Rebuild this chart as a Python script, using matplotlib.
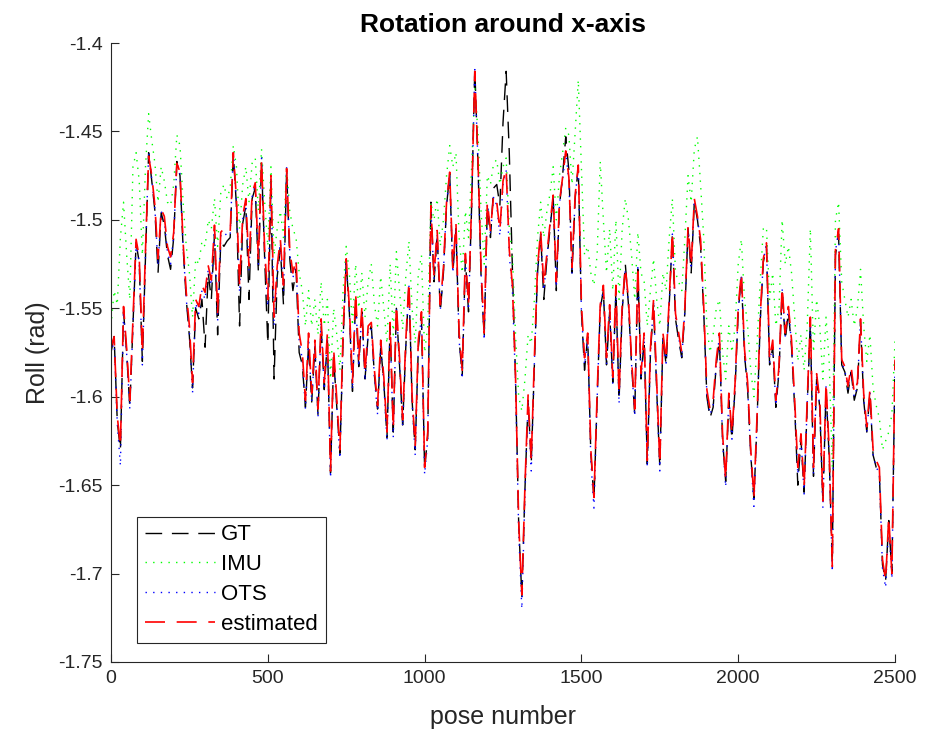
import numpy as np
import matplotlib
matplotlib.use("Agg")
import matplotlib.pyplot as plt

plt.rcParams['font.family'] = ['Liberation Sans', 'DejaVu Sans']

# roll angle (rad), sampled every 10 poses from 0 to 2500
gt = [
    -1.575, -1.566, -1.614, -1.630, -1.552, -1.575, -1.606, -1.560, -1.513, -1.524,
    -1.580, -1.520, -1.462, -1.478, -1.495, -1.530, -1.496, -1.503, -1.520, -1.528,
    -1.510, -1.467, -1.475, -1.516, -1.545, -1.566, -1.595, -1.550, -1.556, -1.545,
    -1.572, -1.530, -1.545, -1.508, -1.565, -1.512, -1.515, -1.512, -1.510, -1.463,
    -1.492, -1.560, -1.502, -1.492, -1.545, -1.488, -1.482, -1.530, -1.467, -1.522,
    -1.570, -1.478, -1.590, -1.532, -1.516, -1.548, -1.472, -1.522, -1.540, -1.528,
    -1.575, -1.582, -1.606, -1.570, -1.603, -1.572, -1.610, -1.560, -1.596, -1.568,
    -1.643, -1.578, -1.606, -1.632, -1.568, -1.524, -1.552, -1.597, -1.545, -1.583,
    -1.552, -1.590, -1.565, -1.560, -1.588, -1.607, -1.572, -1.592, -1.623, -1.560,
    -1.620, -1.550, -1.582, -1.616, -1.572, -1.536, -1.602, -1.630, -1.572, -1.555,
    -1.641, -1.622, -1.490, -1.535, -1.508, -1.552, -1.530, -1.492, -1.474, -1.530,
    -1.505, -1.568, -1.588, -1.522, -1.552, -1.492, -1.414, -1.468, -1.532, -1.566,
    -1.492, -1.510, -1.482, -1.480, -1.492, -1.445, -1.416, -1.462, -1.528, -1.590,
    -1.672, -1.713, -1.652, -1.602, -1.638, -1.582, -1.530, -1.508, -1.545, -1.522,
    -1.505, -1.487, -1.540, -1.492, -1.475, -1.453, -1.472, -1.530, -1.488, -1.470,
    -1.552, -1.585, -1.566, -1.632, -1.658, -1.602, -1.550, -1.540, -1.582, -1.552,
    -1.592, -1.540, -1.602, -1.552, -1.525, -1.548, -1.582, -1.610, -1.528, -1.590,
    -1.568, -1.638, -1.576, -1.548, -1.596, -1.640, -1.566, -1.582, -1.548, -1.508,
    -1.556, -1.568, -1.578, -1.552, -1.505, -1.530, -1.490, -1.500, -1.515, -1.552,
    -1.600, -1.612, -1.606, -1.582, -1.568, -1.624, -1.648, -1.602, -1.624, -1.595,
    -1.552, -1.532, -1.576, -1.596, -1.633, -1.658, -1.614, -1.558, -1.524, -1.515,
    -1.582, -1.572, -1.606, -1.586, -1.540, -1.568, -1.552, -1.572, -1.606, -1.650,
    -1.624, -1.654, -1.605, -1.558, -1.645, -1.590, -1.606, -1.660, -1.596, -1.634,
    -1.694, -1.520, -1.508, -1.582, -1.586, -1.598, -1.586, -1.602, -1.595, -1.558,
    -1.602, -1.620, -1.598, -1.633, -1.640, -1.643, -1.695, -1.704, -1.670, -1.700,
    -1.580,
]

imu = [
    -1.560, -1.540, -1.548, -1.510, -1.490, -1.520, -1.545, -1.470, -1.462, -1.478,
    -1.520, -1.470, -1.440, -1.455, -1.468, -1.490, -1.470, -1.478, -1.490, -1.492,
    -1.480, -1.452, -1.458, -1.490, -1.515, -1.530, -1.555, -1.522, -1.525, -1.512,
    -1.515, -1.500, -1.505, -1.488, -1.515, -1.485, -1.480, -1.488, -1.482, -1.458,
    -1.470, -1.505, -1.480, -1.470, -1.490, -1.468, -1.465, -1.495, -1.460, -1.490,
    -1.515, -1.470, -1.520, -1.505, -1.495, -1.510, -1.470, -1.495, -1.505, -1.510,
    -1.530, -1.540, -1.560, -1.540, -1.560, -1.545, -1.565, -1.535, -1.560, -1.545,
    -1.590, -1.550, -1.565, -1.585, -1.540, -1.515, -1.530, -1.560, -1.525, -1.550,
    -1.530, -1.555, -1.535, -1.525, -1.548, -1.560, -1.532, -1.550, -1.570, -1.525,
    -1.565, -1.518, -1.540, -1.562, -1.532, -1.512, -1.550, -1.570, -1.530, -1.520,
    -1.575, -1.560, -1.490, -1.500, -1.488, -1.515, -1.500, -1.475, -1.458, -1.470,
    -1.462, -1.510, -1.530, -1.495, -1.510, -1.470, -1.425, -1.450, -1.495, -1.525,
    -1.475, -1.480, -1.468, -1.466, -1.480, -1.470, -1.465, -1.505, -1.520, -1.565,
    -1.600, -1.608, -1.590, -1.565, -1.570, -1.545, -1.510, -1.490, -1.510, -1.495,
    -1.485, -1.470, -1.500, -1.475, -1.462, -1.448, -1.452, -1.480, -1.450, -1.421,
    -1.470, -1.520, -1.515, -1.530, -1.537, -1.520, -1.467, -1.500, -1.530, -1.505,
    -1.540, -1.500, -1.545, -1.505, -1.488, -1.500, -1.520, -1.545, -1.507, -1.530,
    -1.535, -1.560, -1.540, -1.522, -1.545, -1.560, -1.530, -1.540, -1.510, -1.488,
    -1.530, -1.535, -1.540, -1.510, -1.475, -1.490, -1.460, -1.453, -1.480, -1.510,
    -1.560, -1.575, -1.565, -1.550, -1.545, -1.575, -1.590, -1.560, -1.575, -1.560,
    -1.525, -1.511, -1.545, -1.560, -1.585, -1.600, -1.570, -1.535, -1.505, -1.504,
    -1.545, -1.530, -1.560, -1.550, -1.500, -1.525, -1.515, -1.530, -1.555, -1.580,
    -1.565, -1.585, -1.560, -1.505, -1.575, -1.545, -1.560, -1.590, -1.555, -1.580,
    -1.640, -1.500, -1.490, -1.535, -1.545, -1.555, -1.545, -1.560, -1.550, -1.528,
    -1.560, -1.580, -1.565, -1.595, -1.605, -1.612, -1.630, -1.625, -1.620, -1.610,
    -1.568,
]

ots = [
    -1.576, -1.568, -1.615, -1.639, -1.552, -1.576, -1.607, -1.560, -1.513, -1.524,
    -1.582, -1.519, -1.462, -1.477, -1.494, -1.526, -1.495, -1.500, -1.518, -1.525,
    -1.509, -1.467, -1.474, -1.516, -1.545, -1.563, -1.598, -1.547, -1.553, -1.540,
    -1.545, -1.528, -1.537, -1.505, -1.557, -1.509, -1.507, -1.509, -1.509, -1.461,
    -1.490, -1.541, -1.500, -1.490, -1.529, -1.487, -1.480, -1.525, -1.465, -1.519,
    -1.549, -1.476, -1.560, -1.528, -1.513, -1.540, -1.470, -1.519, -1.533, -1.524,
    -1.568, -1.579, -1.607, -1.567, -1.603, -1.571, -1.612, -1.559, -1.596, -1.567,
    -1.646, -1.576, -1.606, -1.635, -1.567, -1.523, -1.552, -1.596, -1.544, -1.583,
    -1.552, -1.591, -1.563, -1.561, -1.589, -1.610, -1.571, -1.593, -1.625, -1.561,
    -1.623, -1.550, -1.581, -1.617, -1.571, -1.537, -1.603, -1.633, -1.571, -1.554,
    -1.644, -1.624, -1.493, -1.534, -1.508, -1.551, -1.529, -1.491, -1.474, -1.530,
    -1.504, -1.568, -1.590, -1.521, -1.551, -1.491, -1.415, -1.467, -1.530, -1.568,
    -1.491, -1.508, -1.487, -1.492, -1.509, -1.480, -1.472, -1.520, -1.540, -1.593,
    -1.676, -1.720, -1.655, -1.602, -1.642, -1.581, -1.529, -1.508, -1.540, -1.521,
    -1.503, -1.487, -1.538, -1.491, -1.477, -1.462, -1.478, -1.531, -1.487, -1.470,
    -1.552, -1.582, -1.567, -1.636, -1.663, -1.602, -1.550, -1.539, -1.582, -1.550,
    -1.593, -1.539, -1.604, -1.550, -1.528, -1.547, -1.582, -1.611, -1.527, -1.590,
    -1.566, -1.640, -1.575, -1.547, -1.595, -1.642, -1.566, -1.581, -1.547, -1.508,
    -1.555, -1.566, -1.578, -1.551, -1.505, -1.528, -1.489, -1.499, -1.513, -1.551,
    -1.599, -1.610, -1.605, -1.581, -1.566, -1.625, -1.651, -1.600, -1.624, -1.594,
    -1.551, -1.531, -1.575, -1.595, -1.634, -1.662, -1.614, -1.557, -1.523, -1.514,
    -1.581, -1.570, -1.605, -1.585, -1.539, -1.566, -1.550, -1.570, -1.605, -1.644,
    -1.623, -1.655, -1.604, -1.556, -1.644, -1.589, -1.605, -1.663, -1.594, -1.633,
    -1.699, -1.518, -1.506, -1.581, -1.585, -1.596, -1.585, -1.600, -1.594, -1.557,
    -1.600, -1.620, -1.598, -1.633, -1.640, -1.643, -1.697, -1.708, -1.671, -1.703,
    -1.581,
]

estimated = [
    -1.572, -1.566, -1.611, -1.628, -1.549, -1.573, -1.602, -1.556, -1.511, -1.521,
    -1.575, -1.517, -1.464, -1.475, -1.492, -1.522, -1.494, -1.498, -1.515, -1.521,
    -1.507, -1.468, -1.473, -1.513, -1.541, -1.560, -1.592, -1.545, -1.549, -1.537,
    -1.541, -1.526, -1.534, -1.503, -1.553, -1.507, -1.505, -1.507, -1.507, -1.462,
    -1.488, -1.537, -1.498, -1.488, -1.526, -1.485, -1.479, -1.522, -1.466, -1.517,
    -1.545, -1.475, -1.555, -1.526, -1.511, -1.537, -1.471, -1.517, -1.530, -1.522,
    -1.564, -1.575, -1.602, -1.564, -1.598, -1.568, -1.607, -1.556, -1.592, -1.564,
    -1.642, -1.573, -1.602, -1.630, -1.564, -1.522, -1.549, -1.592, -1.541, -1.579,
    -1.549, -1.587, -1.560, -1.558, -1.585, -1.605, -1.568, -1.589, -1.620, -1.558,
    -1.618, -1.548, -1.578, -1.613, -1.568, -1.535, -1.599, -1.628, -1.568, -1.552,
    -1.640, -1.620, -1.492, -1.531, -1.506, -1.548, -1.527, -1.490, -1.473, -1.527,
    -1.502, -1.564, -1.585, -1.519, -1.548, -1.490, -1.416, -1.465, -1.527, -1.564,
    -1.490, -1.506, -1.486, -1.490, -1.506, -1.478, -1.471, -1.517, -1.537, -1.589,
    -1.671, -1.712, -1.650, -1.599, -1.636, -1.578, -1.527, -1.506, -1.537, -1.519,
    -1.502, -1.486, -1.535, -1.490, -1.476, -1.461, -1.476, -1.527, -1.486, -1.469,
    -1.548, -1.578, -1.564, -1.630, -1.657, -1.599, -1.548, -1.537, -1.578, -1.548,
    -1.589, -1.537, -1.599, -1.548, -1.527, -1.545, -1.579, -1.607, -1.526, -1.587,
    -1.564, -1.636, -1.573, -1.545, -1.592, -1.638, -1.564, -1.579, -1.545, -1.507,
    -1.553, -1.564, -1.575, -1.549, -1.504, -1.526, -1.488, -1.498, -1.511, -1.549,
    -1.596, -1.607, -1.602, -1.579, -1.564, -1.621, -1.647, -1.598, -1.621, -1.592,
    -1.549, -1.530, -1.573, -1.592, -1.630, -1.657, -1.611, -1.555, -1.522, -1.513,
    -1.579, -1.568, -1.602, -1.583, -1.538, -1.564, -1.549, -1.568, -1.602, -1.640,
    -1.621, -1.651, -1.602, -1.555, -1.640, -1.587, -1.602, -1.659, -1.592, -1.630,
    -1.696, -1.517, -1.505, -1.579, -1.583, -1.594, -1.583, -1.598, -1.592, -1.556,
    -1.598, -1.617, -1.596, -1.630, -1.636, -1.640, -1.692, -1.704, -1.668, -1.700,
    -1.579,
]

pose = np.arange(len(estimated)) * 10

fig = plt.figure(figsize=(9.25, 7.39), dpi=100)
ax = fig.add_axes([0.12, 0.1042, 0.8476, 0.8376])

ax.plot(pose, gt, color='k', lw=1.0, dashes=(12, 7), label='GT')
ax.plot(pose, imu, color=(0, 1, 0), lw=1.0, dashes=(1, 4.5), label='IMU')
ax.plot(pose, ots, color=(0, 0, 1), lw=1.0, dashes=(1, 4.5), label='OTS')
ax.plot(pose, estimated, color=(1, 0, 0), lw=1.2, dashes=(12, 7), label='estimated')

ax.set_xlim(0, 2500)
ax.set_ylim(-1.75, -1.4)
ax.set_xticks([0, 500, 1000, 1500, 2000, 2500])
ax.set_yticks([-1.75, -1.7, -1.65, -1.6, -1.55, -1.5, -1.45, -1.4])
ax.set_yticklabels(['-1.75', '-1.7', '-1.65', '-1.6', '-1.55', '-1.5', '-1.45', '-1.4'])

dark = (0.15, 0.15, 0.15)
for s in ['top', 'right']:
    ax.spines[s].set_visible(False)
for s in ['left', 'bottom']:
    ax.spines[s].set_color(dark)
    ax.spines[s].set_linewidth(0.8)
ax.tick_params(direction='in', length=5.5, width=0.8, colors=dark, labelsize=14, pad=6)

ax.set_xlabel('pose number', fontsize=18, color=dark, labelpad=13)
ax.set_ylabel('Roll (rad)', fontsize=18, color=dark, labelpad=6)
ax.set_title('Rotation around x-axis', fontsize=19, fontweight='bold', pad=8)

leg = ax.legend(loc='lower left', bbox_to_anchor=(0.033, 0.031), fontsize=16,
                handlelength=3.15, fancybox=False, framealpha=1, borderaxespad=0,
                borderpad=0.35, labelspacing=0.4, handletextpad=0.3)
leg.get_frame().set_edgecolor(dark)
leg.get_frame().set_linewidth(0.8)

fig.savefig('out.png', dpi=100)
